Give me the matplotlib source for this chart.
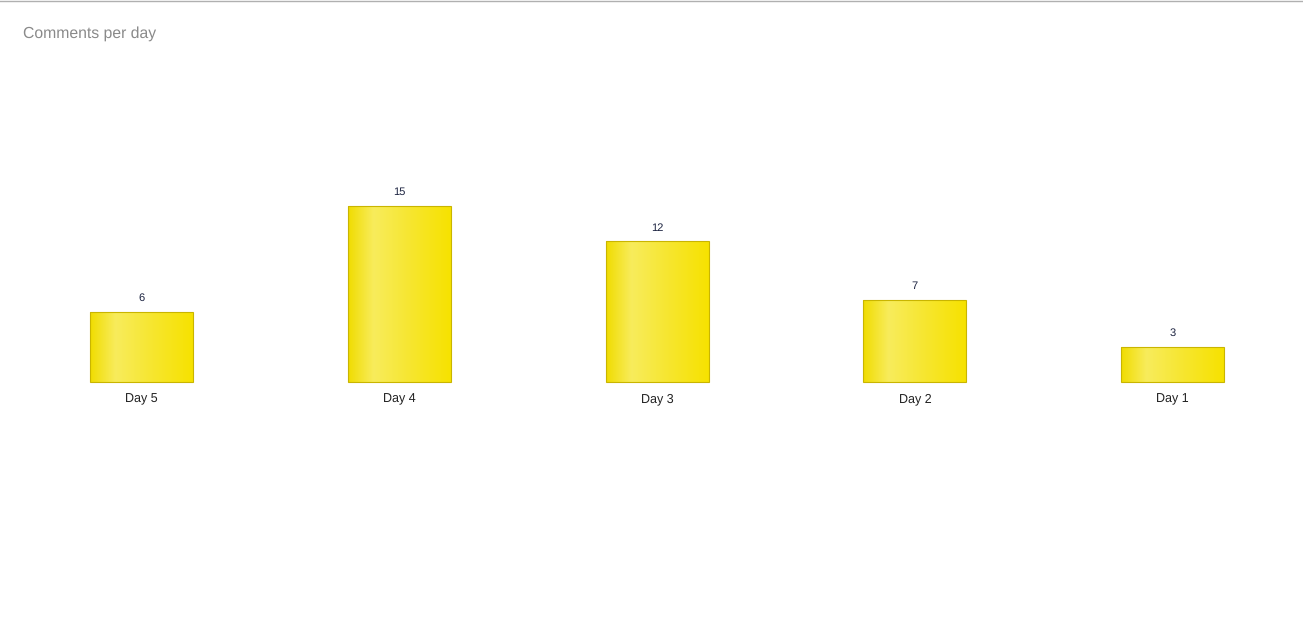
import matplotlib.pyplot as plt
import numpy as np
from matplotlib.colors import LinearSegmentedColormap
from matplotlib.patches import Rectangle

days = ["Day 5", "Day 4", "Day 3", "Day 2", "Day 1"]
comments = [6, 15, 12, 7, 3]

W, H = 1303, 635
plt.rcParams["text.hinting"] = "no_hinting"
fig = plt.figure(figsize=(W / 100, H / 100), dpi=100)

# thin grey rule along the top
fig.add_artist(plt.Line2D([0, 1], [1 - 1.0 / H, 1 - 1.0 / H], color="#b0b0b0", lw=1))
fig.text(23 / W, 1 - 38 / H, "Comments per day", fontsize=11.3, color="#8a8a8a",
         family="Liberation Sans", va="baseline")

# plot area: 5 slots of ~257.8 px, baseline at y=382, 15 units = 176 px
ax = fig.add_axes([12.6 / W, (H - 382) / H, 1289 / W, 176 / H])
ax.set_xlim(-0.5, 4.5)
ax.set_ylim(0, 15)
ax.axis("off")

cmap = LinearSegmentedColormap.from_list(
    "bar", [(0, "#f0dc00"), (0.25, "#f8ec5c"), (0.6, "#f6e630"), (1, "#f7e200")])
grad = np.linspace(0, 1, 256)[None, :]
width = 103 / 257.8

x = np.arange(len(days))
for xi, val, lab in zip(x, comments, days):
    left = xi - width / 2
    im = ax.imshow(grad, cmap=cmap, aspect="auto", extent=[left, left + width, 0, val],
                   interpolation="bicubic", zorder=2)
    rect = Rectangle((left, 0), width, val, facecolor="none", edgecolor="#c9b500",
                     lw=0.8, zorder=3, clip_on=False)
    ax.add_patch(rect)
    im.set_clip_path(rect)
    ax.annotate(str(val), (xi, val), xytext=(0, 6), textcoords="offset points",
                ha="center", va="bottom", fontsize=8, color="#1c2340",
                family="Liberation Sans")
    ax.annotate(lab, (xi, 0), xytext=(0, -8), textcoords="offset points",
                ha="center", va="top", fontsize=9, color="#222222",
                family="Liberation Sans")

ax.set_xlim(-0.5, 4.5)
ax.set_ylim(0, 15)
fig.savefig("out.png", dpi=100)
